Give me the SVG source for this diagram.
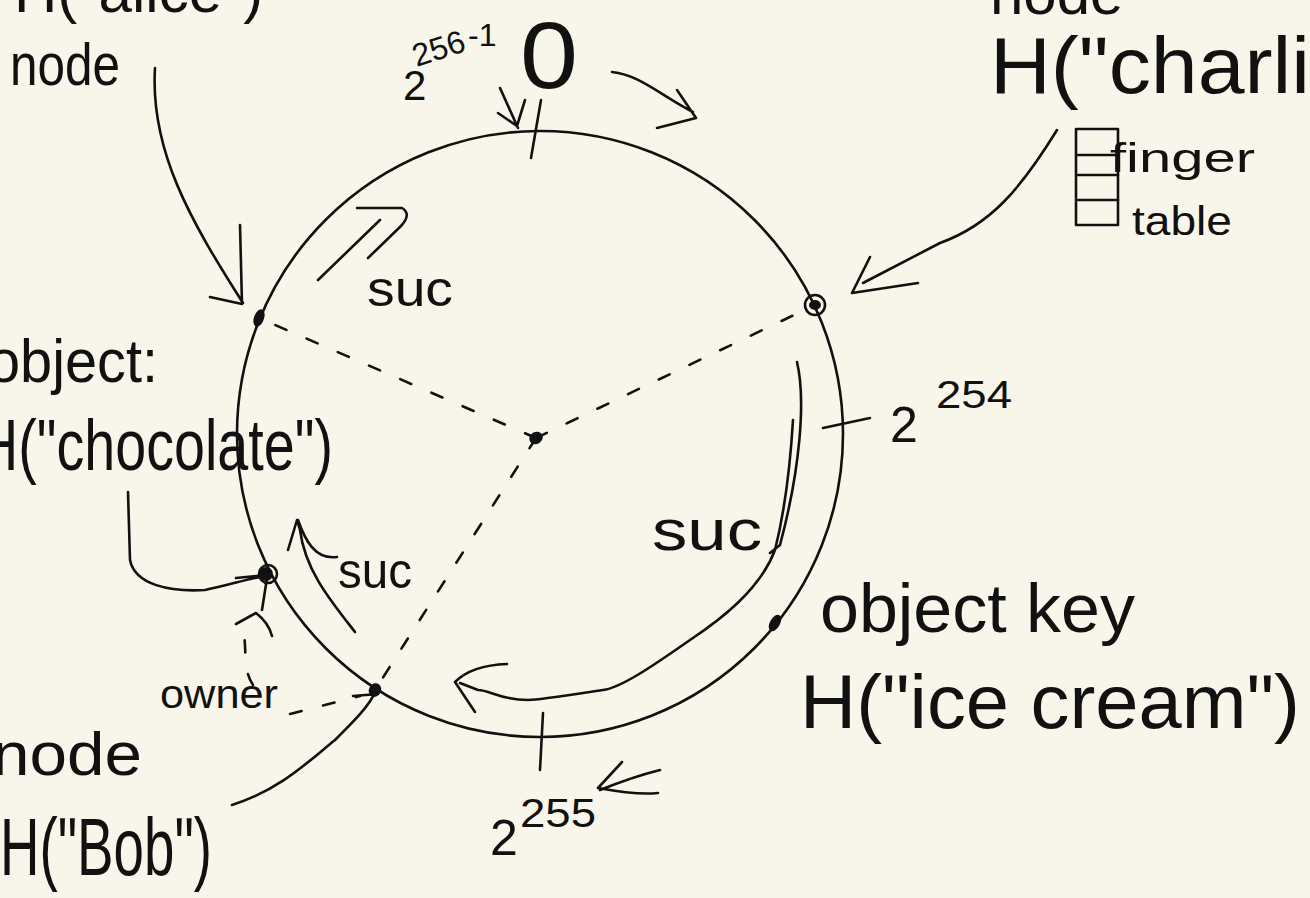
<svg xmlns="http://www.w3.org/2000/svg" width="1310" height="898" viewBox="0 0 1310 898">
<style>
.ink{fill:none;stroke:#111;stroke-width:2.6;stroke-linecap:round;stroke-linejoin:round}
.dash{fill:none;stroke:#111;stroke-width:2.6;stroke-linecap:round;stroke-dasharray:12 22}
.dot{fill:#111;stroke:#111;stroke-width:2}
.t{font-family:"Liberation Sans","Open Sans",sans-serif;fill:#111;font-weight:normal}
</style>
<rect width="1310" height="898" fill="#f8f6ea"/>
<g id="ring">
<circle class="ink" cx="540" cy="434" r="303"/>
<path class="ink" d="M541,100 L531,158"/>
<path class="ink" d="M823,428 L870,418"/>
<path class="ink" d="M543,713 L540,770"/>
</g>
<g id="labels">
<text class="t" x="403" y="100" font-size="42">2</text>
<text class="t" x="412" y="62" font-size="32" transform="rotate(-18 430 50)">256</text>
<text class="t" x="468" y="46" font-size="32">-1</text>
<text class="t" x="520" y="88" font-size="95" textLength="58" lengthAdjust="spacingAndGlyphs">0</text>
<text class="t" x="890" y="442" font-size="50">2</text>
<text class="t" x="936" y="408" font-size="38" textLength="76" lengthAdjust="spacingAndGlyphs">254</text>
<text class="t" x="490" y="855" font-size="50">2</text>
<text class="t" x="520" y="827" font-size="40" textLength="76" lengthAdjust="spacingAndGlyphs">255</text>
<text class="t" x="367" y="306" font-size="50" textLength="86" lengthAdjust="spacingAndGlyphs">suc</text>
<text class="t" x="338" y="588" font-size="50" textLength="74" lengthAdjust="spacingAndGlyphs">suc</text>
<text class="t" x="652" y="550" font-size="58" textLength="110" lengthAdjust="spacingAndGlyphs">suc</text>
<text class="t" x="160" y="708" font-size="40" textLength="118" lengthAdjust="spacingAndGlyphs">owner</text>
</g>
<g id="connectors">
<path class="dash" d="M536,438 L259,318"/>
<path class="dash" d="M536,438 L815,305"/>
<path class="dash" d="M536,438 L375,690"/>
<path class="dash" d="M290,714 L360,696"/>
<path class="dash" d="M253,685 C240,665 250,645 240,622" stroke-dasharray="10 14"/>
<path class="ink" d="M236,624 L256,613 C265,620 270,628 272,636"/>
<path class="ink" d="M267,578 L262,610"/>
<path class="ink" d="M500,88 L518,128 M498,113 L517,126 L525,100"/>
<path class="ink" d="M612,72 C640,75 660,95 693,112 M677,90 L696,118 L657,128"/>
<path class="ink" d="M155,68 C150,150 190,220 243,303 M240,225 L242,304 L210,297"/>
<path class="ink" d="M1057,130 C1020,190 990,225 940,243 L863,283 M870,257 L852,293 L918,283"/>
<path class="ink" d="M128,492 L130,560 C135,585 170,592 205,590 C230,585 250,578 266,576 M236,578 L266,575"/>
<path class="ink" d="M232,805 C280,790 310,760 335,740 C355,720 370,705 375,692 M353,696 L378,694"/>
<path class="ink" d="M318,280 L380,220 M357,208 L402,208 Q412,214 401,226 L368,258"/>
<path class="ink" d="M355,632 C330,600 305,570 300,530 L297,520 L288,550 M298,520 C305,540 315,560 337,557"/>
<path class="ink" d="M797,362 C806,400 800,470 780,545 L770,553 M793,420 C790,470 785,510 775,550 C760,590 720,620 690,640 C650,668 620,688 603,690 C570,695 540,700 528,700 C500,700 490,690 478,690 L460,683 M507,664 C480,665 465,672 455,682 L475,712"/>
<path class="ink" d="M660,770 C640,775 620,782 600,790 M622,762 L598,788 C620,792 640,795 658,793"/>
</g>
<g id="center">
<ellipse class="dot" cx="536" cy="438" rx="6" ry="5" transform="rotate(-30 536 438)"/>
</g>
<g id="node-alice">
<ellipse class="dot" cx="259" cy="318" rx="4" ry="8" transform="rotate(20 259 318)"/>
<text class="t" x="14" y="12" font-size="60">H("alice")</text>
<text class="t" x="10" y="85" font-size="60" textLength="110" lengthAdjust="spacingAndGlyphs">node</text>
</g>
<g id="node-charlie">
<circle class="ink" cx="815" cy="305" r="10"/>
<ellipse class="dot" cx="815" cy="305" rx="5" ry="4"/>
<text class="t" x="990" y="14" font-size="60">node</text>
<text class="t" x="990" y="93" font-size="80" textLength="320" lengthAdjust="spacingAndGlyphs">H("charli</text>
<rect class="ink" x="1076" y="129" width="42" height="96"/>
<path class="ink" d="M1078,155 L1118,155 M1078,175 L1118,175 M1078,200 L1118,200"/>
<text class="t" x="1110" y="172" font-size="40" textLength="145" lengthAdjust="spacingAndGlyphs">finger</text>
<text class="t" x="1132" y="235" font-size="40" textLength="100" lengthAdjust="spacingAndGlyphs">table</text>
</g>
<g id="object-chocolate">
<circle class="ink" cx="268" cy="574" r="9"/>
<ellipse class="dot" cx="266" cy="574" rx="6" ry="6"/>
<text class="t" x="-12" y="382" font-size="62" textLength="170" lengthAdjust="spacingAndGlyphs">object:</text>
<text class="t" x="-22" y="470" font-size="72" textLength="355" lengthAdjust="spacingAndGlyphs">H("chocolate")</text>
</g>
<g id="node-bob">
<ellipse class="dot" cx="375" cy="690" rx="5" ry="6" transform="rotate(30 375 690)"/>
<text class="t" x="-8" y="775" font-size="62" textLength="150" lengthAdjust="spacingAndGlyphs">node</text>
<text class="t" x="0" y="875" font-size="82" textLength="212" lengthAdjust="spacingAndGlyphs">H("Bob")</text>
</g>
<g id="object-icecream">
<ellipse class="dot" cx="775" cy="623" rx="4" ry="8" transform="rotate(30 775 623)"/>
<text class="t" x="820" y="632" font-size="68" textLength="315" lengthAdjust="spacingAndGlyphs">object key</text>
<text class="t" x="800" y="728" font-size="76" textLength="500" lengthAdjust="spacingAndGlyphs">H("ice cream")</text>
</g>
</svg>
